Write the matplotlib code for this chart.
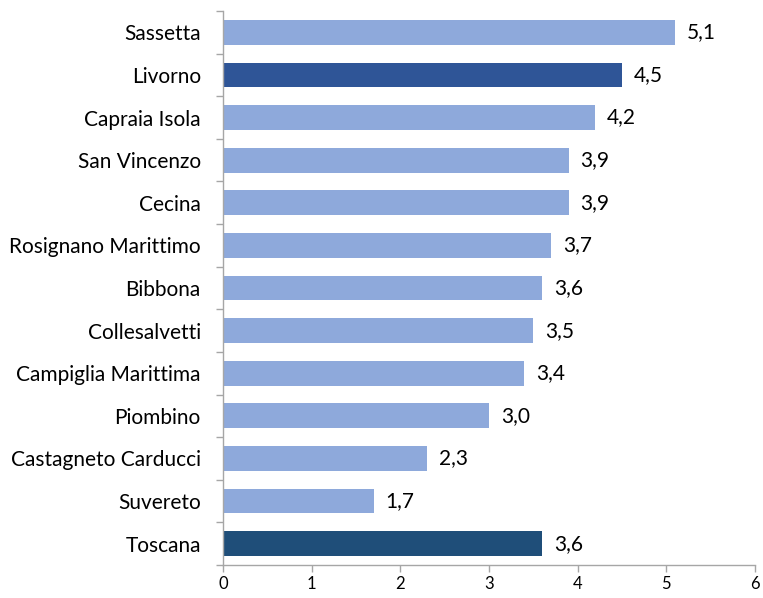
import matplotlib
matplotlib.use("Agg")
import matplotlib.pyplot as plt
import numpy as np

categories = ["Sassetta", "Livorno", "Capraia Isola", "San Vincenzo", "Cecina",
              "Rosignano Marittimo", "Bibbona", "Collesalvetti", "Campiglia Marittima",
              "Piombino", "Castagneto Carducci", "Suvereto", "Toscana"]
values = [5.1, 4.5, 4.2, 3.9, 3.9, 3.7, 3.6, 3.5, 3.4, 3.0, 2.3, 1.7, 3.6]
labels = ["5,1", "4,5", "4,2", "3,9", "3,9", "3,7", "3,6", "3,5", "3,4", "3,0", "2,3", "1,7", "3,6"]
xticks = [0, 1, 2, 3, 4, 5, 6]

colors = ["#8EA9DB"] * len(categories)
colors[1] = "#2F5597"
colors[-1] = "#1F4E79"

plt.rcParams['font.family'] = ['Lato', 'DejaVu Sans']

fig = plt.figure(figsize=(7.63, 5.98), dpi=100)
ax = fig.add_axes([223/763, 1 - 565/598, (755-223)/763, (565-11)/598])

y = np.arange(len(categories))
ax.barh(y, values, height=0.58, color=colors)
ax.set_ylim(len(categories) - 0.5, -0.5)
ax.set_xlim(0, 6)

for yi, v, lab in zip(y, values, labels):
    ax.annotate(lab, (v, yi), xytext=(8.5, 0), textcoords='offset points',
                va='center', ha='left', fontsize=15, color='black')

ax.set_yticks(y)
ax.set_yticklabels(categories, fontsize=15)
ax.tick_params(axis='y', length=0, pad=16)
ax.set_yticks(np.arange(-0.5, len(categories), 1), minor=True)
ax.tick_params(axis='y', which='minor', length=5, color='#A6A6A6', width=1)
ax.set_xticks(xticks)
ax.set_xticklabels([str(t) for t in xticks], fontsize=12)
ax.tick_params(axis='x', length=5, color='#A6A6A6', width=1, pad=3)

for s in ['top', 'right']:
    ax.spines[s].set_visible(False)
for s in ['left', 'bottom']:
    ax.spines[s].set_color('#A6A6A6')
    ax.spines[s].set_linewidth(1)

fig.savefig("out.png", dpi=100, facecolor='white')
